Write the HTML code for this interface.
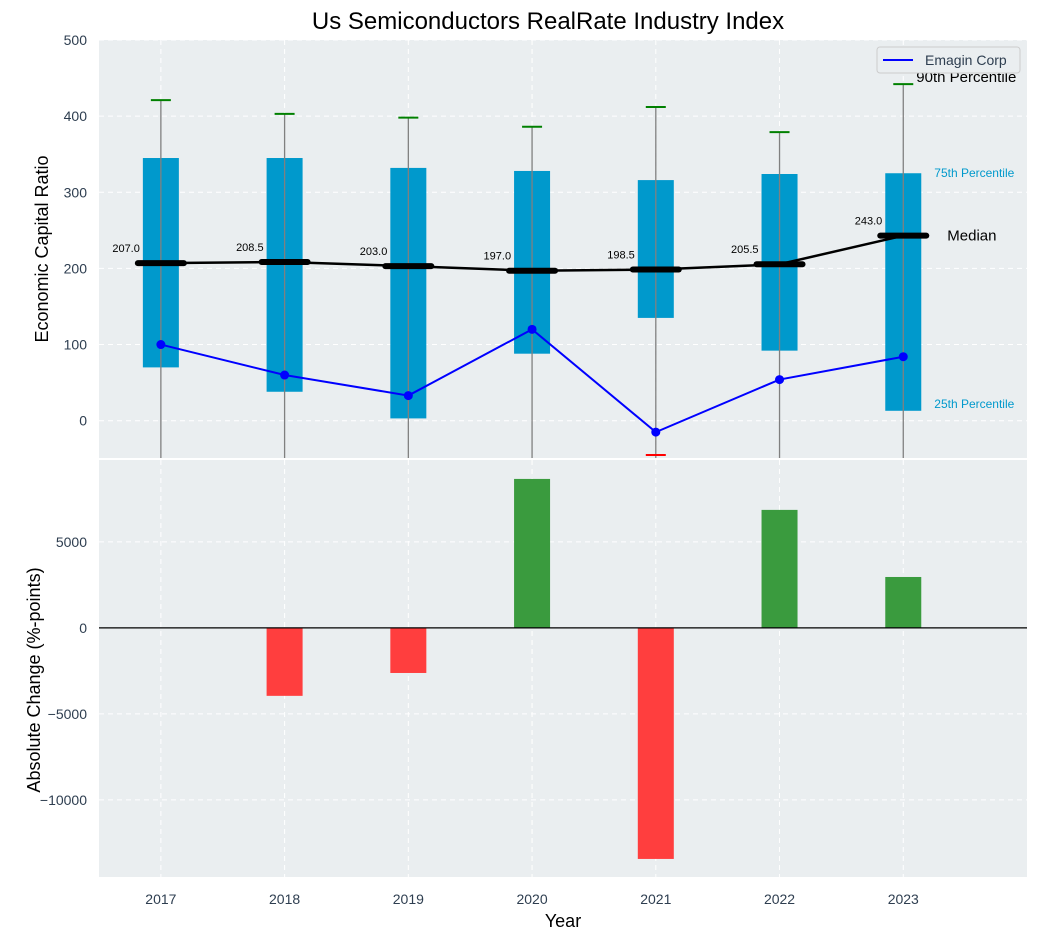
<!DOCTYPE html>
<html><head><meta charset="utf-8"><style>
body{margin:0;background:#fff;font-family:"Liberation Sans",sans-serif}
svg text{font-family:"Liberation Sans",sans-serif}
</style></head><body>
<svg id="c" width="1038" height="940" xmlns="http://www.w3.org/2000/svg"></svg>
<script>
const years=[2017,2018,2019,2020,2021,2022,2023];
const q1=[70,38,3,88,135,92,13];
const q3=[345,345,332,328,316,324,325];
const medians=[207.0,208.5,203.0,197.0,198.5,205.5,243.0];
const p90=[421,403,398,386,412,379,442];
const emagin=[100,60,33,120,-15,54,84];
const changes=[0,-3950,-2620,8660,-13430,6860,2960];
const topTicks=[0,100,200,300,400,500];
const botTicks=[-10000,-5000,0,5000];
const NS='http://www.w3.org/2000/svg';
const svg=document.getElementById('c');
function el(t,a,txt,parent){const e=document.createElementNS(NS,t);for(const k in a)e.setAttribute(k,a[k]);if(txt!==undefined)e.textContent=txt;(parent||svg).appendChild(e);return e;}
const L=99,R=1027,T1=40,B1=458,T2=460,B2=877;
const x=v=>L+(v-2016.5)/(2024-2016.5)*(R-L);
const y1=v=>T1+(500-v)/(500+49)*(B1-T1);
const y2=v=>T2+(9760-v)/(9760+14480)*(B2-T2);
let e=el('rect',{x:L,y:T1,width:R-L,height:B1-T1,fill:'#eaeef0'});

e=el('rect',{x:L,y:T2,width:R-L,height:B2-T2,fill:'#eaeef0'});

years.forEach(yr=>{[[T1,B1],[T2,B2]].forEach(([a,b])=>{el('line',{x1:x(yr),x2:x(yr),y1:a,y2:b,stroke:'#fff','stroke-dasharray':'5,4','stroke-width':1});});});
topTicks.forEach(t=>{el('line',{x1:L,x2:R,y1:y1(t),y2:y1(t),stroke:'#fff','stroke-dasharray':'5,4'});
 e=el('text',{x:L-12,y:y1(t)+5,'text-anchor':'end','font-size':14,fill:'#2e3e50'},t);
 });
botTicks.forEach(t=>{el('line',{x1:L,x2:R,y1:y2(t),y2:y2(t),stroke:'#fff','stroke-dasharray':'5,4'});
 e=el('text',{x:L-12,y:y2(t)+5,'text-anchor':'end','font-size':14,fill:'#2e3e50'},t<0?'\u2212'+(-t):t);
 });
const clip=el('clipPath',{id:'cp'});el('rect',{x:L,y:T1,width:R-L,height:B1-T1},undefined,clip);
const g=el('g',{'clip-path':'url(#cp)'});
years.forEach((yr,i)=>{const cx=x(yr);
 e=el('rect',{x:cx-18,y:y1(q3[i]),width:36,height:y1(q1[i])-y1(q3[i]),fill:'#0099cc'},undefined,g);
 
 el('line',{x1:cx,x2:cx,y1:y1(p90[i]),y2:B1+5,stroke:'#808080','stroke-width':1.3},undefined,g);
 el('line',{x1:cx-10,x2:cx+10,y1:y1(p90[i]),y2:y1(p90[i]),stroke:'green','stroke-width':2},undefined,g);
});
e=el('line',{x1:x(2021)-10,x2:x(2021)+10,y1:y1(-45),y2:y1(-45),stroke:'red','stroke-width':2},undefined,g);

e=el('polyline',{points:years.map((yr,i)=>x(yr)+','+y1(medians[i])).join(' '),fill:'none',stroke:'#000','stroke-width':2.5},undefined,g);

years.forEach((yr,i)=>{const cx=x(yr);
 el('line',{x1:cx-23,x2:cx+23,y1:y1(medians[i]),y2:y1(medians[i]),stroke:'#000','stroke-width':6,'stroke-linecap':'round'},undefined,g);
 e=el('text',{x:cx-21,y:y1(medians[i])-11,'text-anchor':'end','font-size':11,fill:'#000'},medians[i].toFixed(1));
 });
e=el('polyline',{points:years.map((yr,i)=>x(yr)+','+y1(emagin[i])).join(' '),fill:'none',stroke:'blue','stroke-width':2},undefined,g);

years.forEach((yr,i)=>{e=el('circle',{cx:x(yr),cy:y1(emagin[i]),r:4.5,fill:'blue'},undefined,g);
 });
const lx=x(2023);
el('text',{x:lx+13,y:y1(442)-2,'font-size':15,fill:'#000'},'90th Percentile');
el('text',{x:lx+31,y:y1(325)+4,'font-size':12,fill:'#0099cc'},'75th Percentile');
el('text',{x:lx+44,y:y1(243)+5,'font-size':15,fill:'#000'},'Median');
el('text',{x:lx+31,y:y1(13)-3,'font-size':12,fill:'#0099cc'},'25th Percentile');
e=el('rect',{x:877,y:47,width:143,height:26,rx:3,fill:'#eaeef0',stroke:'#ccc'});

el('line',{x1:883,x2:913,y1:60,y2:60,stroke:'blue','stroke-width':2});
el('text',{x:925,y:65,'font-size':14,fill:'#2e3e50'},'Emagin Corp');
years.forEach((yr,i)=>{const v=changes[i];if(!v)return;
 e=el('rect',{x:x(yr)-18,y:Math.min(y2(v),y2(0)),width:36,height:Math.abs(y2(v)-y2(0)),fill:v>0?'#3a9b3e':'#ff3e3e'});
 });
el('line',{x1:L,x2:R,y1:y2(0),y2:y2(0),stroke:'#000','stroke-width':1.2});
years.forEach(yr=>{e=el('text',{x:x(yr),y:B2+27,'text-anchor':'middle','font-size':14,fill:'#2e3e50'},yr);
 });
e=el('text',{x:563,y:927,'text-anchor':'middle','font-size':18,fill:'#000'},'Year');

e=el('text',{x:0,y:0,transform:'translate(48,249) rotate(-90)','text-anchor':'middle','font-size':18,fill:'#000'},'Economic Capital Ratio');

e=el('text',{x:0,y:0,transform:'translate(40,680) rotate(-90)','text-anchor':'middle','font-size':18,fill:'#000'},'Absolute Change (%-points)');

e=el('text',{x:548,y:29,'text-anchor':'middle','font-size':24,fill:'#000'},'Us Semiconductors RealRate Industry Index');

</script>
</body></html>
